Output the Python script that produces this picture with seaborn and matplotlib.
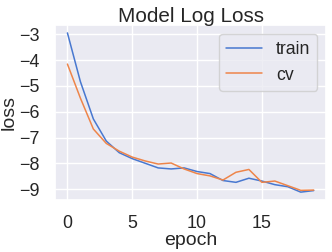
import numpy as np
import pandas as pd
import seaborn as sns
import matplotlib.pyplot as plt

epoch = list(range(20))
train = [-2.94, -4.83, -6.28, -7.14, -7.59, -7.82, -8.00, -8.18, -8.22, -8.18,
         -8.32, -8.40, -8.67, -8.74, -8.58, -8.69, -8.83, -8.91, -9.12, -9.06]
cv = [-4.15, -5.47, -6.67, -7.23, -7.53, -7.76, -7.91, -8.03, -7.99, -8.22,
      -8.40, -8.49, -8.65, -8.35, -8.24, -8.74, -8.69, -8.87, -9.05, -9.04]

sns.set_theme(style="darkgrid", palette="muted", font_scale=1.17)
plt.rcParams['font.family'] = ['Arial', 'Liberation Sans', 'DejaVu Sans']
plt.rcParams.update({"xtick.major.pad": 5, "ytick.major.pad": 5,
                     "axes.titlesize": 14.9, "legend.fontsize": 12.7})

df = pd.DataFrame({"epoch": epoch + epoch,
                   "loss": train + cv,
                   "set": ["train"] * 20 + ["cv"] * 20})

fig, ax = plt.subplots(figsize=(3.32, 2.52), dpi=100)
sns.lineplot(data=df, x="epoch", y="loss", hue="set", ax=ax, linewidth=1.1)
ax.set_title("Model Log Loss", pad=2)
ax.legend(title=None, loc="upper right")
ax.set_xticks([0, 5, 10, 15])
ax.set_yticks([-9, -8, -7, -6, -5, -4, -3])
ax.xaxis.labelpad = 0
ax.yaxis.labelpad = 1
fig.subplots_adjust(left=0.166, right=0.982, top=0.901, bottom=0.206)
fig.savefig("out.png")
